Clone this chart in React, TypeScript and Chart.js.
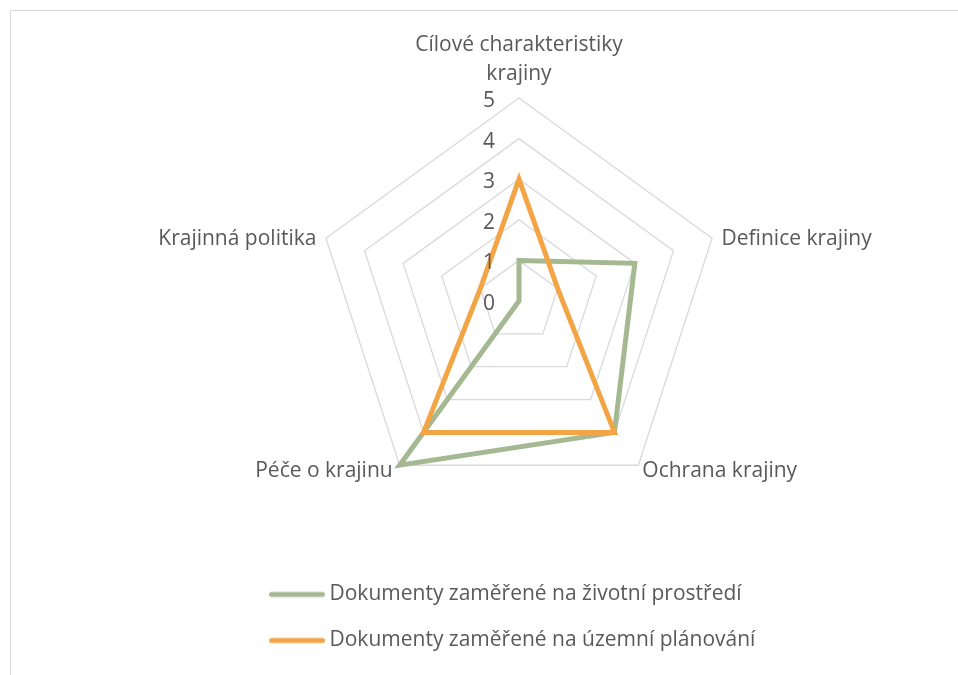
import React, { useEffect, useRef } from "react";
import { Chart, registerables } from "chart.js";

Chart.register(...registerables);

const categories: string[][] = [
  ["Cílové charakteristiky", "krajiny"],
  ["Definice krajiny"],
  ["Ochrana krajiny"],
  ["Péče o krajinu"],
  ["Krajinná politika"],
];
const seriesNames = [
  "Dokumenty zaměřené na životní prostředí",
  "Dokumenty zaměřené na územní plánování",
];
const envValues = [1, 3, 4, 5, 0];
const planValues = [3, 1, 4, 4, 1];
const tickValues = [0, 1, 2, 3, 4, 5];

const FONT = "'Open Sans', 'Noto Sans', sans-serif";
const TEXT = "#595959";
const GREEN = "#A4B891";
const ORANGE = "#F3A546";

// label offsets relative to each axis end (styling only)
const labelStyle = [
  { align: "center", dx: 0, dy: -18.5 },
  { align: "left", dx: 9.5, dy: 7 },
  { align: "left", dx: 4, dy: 12 },
  { align: "right", dx: -7, dy: 12 },
  { align: "right", dx: -9.5, dy: 7 },
];

function makeLegendLine(color: string) {
  const c = document.createElement("canvas");
  c.width = 56;
  c.height = 8;
  const g = c.getContext("2d")!;
  g.strokeStyle = color;
  g.lineWidth = 5;
  g.lineCap = "round";
  g.beginPath();
  g.moveTo(2.5, 4);
  g.lineTo(53.5, 4);
  g.stroke();
  return c;
}

const radarText = {
  id: "radarText",
  afterLayout(chart: any) {
    if (chart.legend) {
      chart.legend.left = 181;
    }
  },
  afterDatasetsDraw(chart: any) {
    const scale = chart.scales.r;
    const ctx = chart.ctx;
    ctx.save();
    ctx.fillStyle = TEXT;
    ctx.font = `21px ${FONT}`;
    ctx.textAlign = "center";
    ctx.textBaseline = "alphabetic";
    tickValues.forEach((v) => {
      const y = scale.yCenter - scale.getDistanceFromCenterForValue(v);
      ctx.fillText(String(v), scale.xCenter - 30, y + 9);
    });
    categories.forEach((lines, i) => {
      const p = scale.getPointPosition(i, scale.drawingArea);
      const st = labelStyle[i];
      ctx.textAlign = st.align;
      const n = lines.length;
      lines.forEach((line, k) => {
        const y = p.y + st.dy - (n - 1 - k) * 28.5;
        ctx.fillText(line, p.x + st.dx, y);
      });
    });
    ctx.restore();
  },
};

export default function App() {
  const ref = useRef<HTMLCanvasElement | null>(null);
  useEffect(() => {
    if (!ref.current) return;
    const chart = new Chart(ref.current, {
      type: "radar",
      data: {
        labels: categories.map((c) => c.join(" ")),
        datasets: [
          {
            label: seriesNames[0],
            data: envValues,
            borderColor: GREEN,
            backgroundColor: GREEN,
            borderWidth: 5,
            pointRadius: 0,
            pointStyle: makeLegendLine(GREEN),
            fill: false,
            borderJoinStyle: "miter",
            order: 1,
          },
          {
            label: seriesNames[1],
            data: planValues,
            borderColor: ORANGE,
            backgroundColor: ORANGE,
            borderWidth: 5,
            pointRadius: 0,
            pointStyle: makeLegendLine(ORANGE),
            fill: false,
            borderJoinStyle: "miter",
            order: 0,
          },
        ],
      },
      options: {
        animation: false,
        responsive: false,
        layout: { padding: { top: 87, left: 0, right: 0, bottom: 0 } },
        scales: {
          r: {
            min: 0,
            max: 5,
            ticks: { stepSize: 1, display: false },
            grid: { color: "#d9d9d9", lineWidth: 1.3 },
            angleLines: { display: false },
            pointLabels: { display: false },
          },
        },
        plugins: {
          legend: {
            position: "bottom",
            align: "start",
            title: {
              display: true,
              text: " ",
              font: { size: 10, lineHeight: 1 },
              padding: { top: 45, bottom: 0 },
            },
            labels: {
              usePointStyle: true,
              pointStyleWidth: 44,
              padding: 25,
              color: TEXT,
              font: { family: FONT, size: 21 },
              sort: (a: any, b: any) => a.datasetIndex - b.datasetIndex,
            },
          },
          tooltip: { enabled: false },
        },
      } as any,
      plugins: [radarText],
    });
    return () => chart.destroy();
  }, []);

  return (
    <div
      style={{
        position: "fixed",
        left: 0,
        top: 0,
        width: 958,
        height: 675,
        overflow: "hidden",
        background: "#fff",
      }}
    >
      <div
        style={{
          position: "absolute",
          left: 10,
          top: 10,
          width: 1100,
          height: 800,
          border: "1px solid #d9d9d9",
        }}
      >
        <canvas
          ref={ref}
          width={900}
          height={650}
          style={{ position: "absolute", left: 58, top: 0, width: 900, height: 650 }}
        />
      </div>
    </div>
  );
}
